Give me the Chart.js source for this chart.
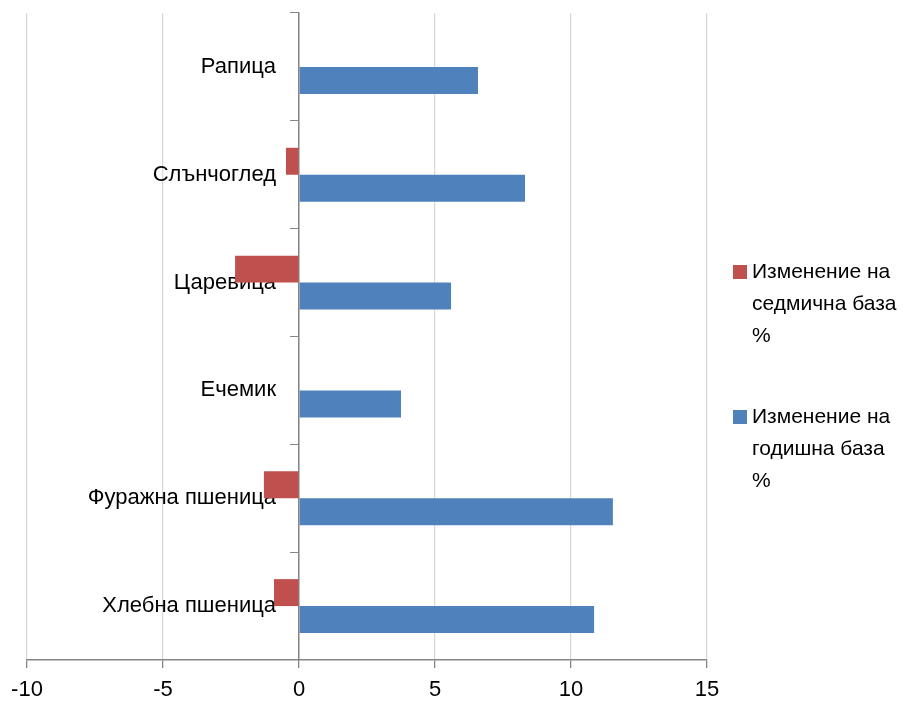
<!DOCTYPE html>
<html>
<head>
<meta charset="utf-8">
<script src="https://cdn.jsdelivr.net/npm/chart.js@4"></script>
<style>
html,body{margin:0;padding:0;background:#fff;}
#wrap{width:905px;height:705px;position:relative;}
</style>
</head>
<body>
<div id="wrap"><canvas id="c" width="905" height="705"></canvas></div>
<script>
const categories = ["Рапица", "Слънчоглед", "Царевица", "Ечемик", "Фуражна пшеница", "Хлебна пшеница"];
const weeklyChange = [0, -0.48, -2.35, 0, -1.29, -0.92];
const yearlyChange = [6.58, 8.31, 5.59, 3.75, 11.54, 10.85];
const weeklyLabel = ["Изменение на", "седмична база", "%"];
const yearlyLabel = ["Изменение на", "годишна база", "%"];
const xTicks = [-10, -5, 0, 5, 10, 15];

const FONT = "'Liberation Sans', Arial, sans-serif";

const legendPlugin = {
  id: 'customLegend',
  beforeDraw(chart) {
    // shift category labels left of the zero axis (padding is ignored for value-positioned axes)
    const items = chart.scales.y.getLabelItems();
    items.forEach(it => {
      if (!it._shifted) { it.options.translation[0] -= 23; it._shifted = true; }
    });
  },
  afterDraw(chart) {
    const ctx = chart.ctx;
    ctx.save();
    ctx.font = "21px " + FONT;
    ctx.textBaseline = "middle";
    ctx.textAlign = "left";
    const entries = [
      {ds: chart.data.datasets[0], y: 272},
      {ds: chart.data.datasets[1], y: 417}
    ];
    entries.forEach(e => {
      ctx.fillStyle = e.ds.backgroundColor;
      ctx.fillRect(733, e.y - 7, 14, 14);
      ctx.fillStyle = "#000";
      e.ds.legendLines.forEach((l, i) => ctx.fillText(l, 752, e.y + i * 32));
    });
    ctx.restore();
  }
};

new Chart(document.getElementById('c'), {
  type: 'bar',
  data: {
    labels: categories,
    datasets: [
      {label: weeklyLabel.join(' '), legendLines: weeklyLabel, data: weeklyChange, backgroundColor: '#C0504D', categoryPercentage: 0.5, barPercentage: 1.0},
      {label: yearlyLabel.join(' '), legendLines: yearlyLabel, data: yearlyChange, backgroundColor: '#4F81BD', categoryPercentage: 0.5, barPercentage: 1.0}
    ]
  },
  options: {
    indexAxis: 'y',
    responsive: false,
    animation: false,
    devicePixelRatio: 1,
    layout: {padding: {left: 27, right: 198, top: 13, bottom: 2}},
    plugins: {legend: {display: false}, tooltip: {enabled: false}},
    scales: {
      x: {
        type: 'linear',
        min: -10, max: 15,
        afterBuildTicks(scale) { scale.ticks = xTicks.map(v => ({value: v})); },
        afterFit(scale) { scale.height = 43; },
        grid: {color: '#d9d9d9', lineWidth: 1.3, tickColor: '#868686', tickLength: 8, drawTicks: true},
        border: {color: '#868686', width: 1.5},
        ticks: {font: {family: FONT, size: 22}, color: '#000', padding: 9}
      },
      y: {
        position: {x: 0},
        afterFit(scale) { scale.paddingTop = 0; scale.paddingBottom = 0; },
        grid: {drawOnChartArea: false, tickColor: '#868686', tickLength: 8, offset: true},
        border: {color: '#868686', width: 1.5},
        ticks: {font: {family: FONT, size: 22}, color: '#000', padding: 14}
      }
    }
  },
  plugins: [legendPlugin]
});
</script>
</body>
</html>
